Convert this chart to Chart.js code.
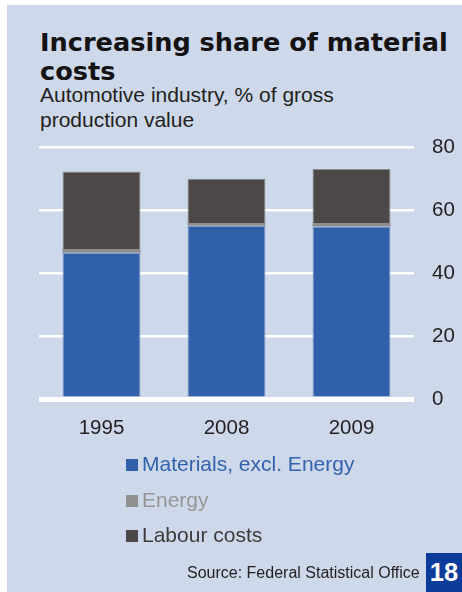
<!DOCTYPE html>
<html>
<head>
<meta charset="utf-8">
<script src="https://cdn.jsdelivr.net/npm/chart.js@4.4.0/dist/chart.umd.min.js"></script>
<style>
  body { margin: 0; width: 462px; height: 592px; overflow: hidden; background: #fff; font-family: "Liberation Sans", Arial, sans-serif; }
  #panel { position: absolute; left: 7px; top: 5px; right: 0; bottom: 0; background: #cdd8ea; }
  #chart { position: absolute; left: 0; top: 0; }
  .title { position: absolute; left: 40px; top: 27.6px; font-family: "DejaVu Sans", sans-serif; font-weight: bold; font-size: 25.6px; line-height: 29px; color: #141212; white-space: nowrap; }
  .subtitle { position: absolute; left: 40px; top: 82px; font-size: 21px; line-height: 25px; color: #231f20; white-space: nowrap; }
  #legend { position: absolute; left: 126px; top: 449px; }
  .item { position: relative; height: 35.7px; font-size: 21px; line-height: 30px; white-space: nowrap; }
  .item span.box { position: absolute; left: 0; top: 10px; width: 12px; height: 12px; }
  .item span.lbl { position: absolute; left: 16px; top: 0; }
  .source { position: absolute; left: 187px; top: 563px; font-size: 16px; line-height: 20px; color: #231f20; white-space: nowrap; }
  .page { position: absolute; left: 426px; top: 553px; width: 36px; height: 39px; background: #0d3b99; color: #fff; font-weight: bold; font-size: 25.6px; line-height: 39px; text-align: center; }
</style>
</head>
<body>
<div id="panel"></div>
<div class="title">Increasing share of material<br>costs</div>
<div class="subtitle">Automotive industry, % of gross<br>production value</div>
<canvas id="chart" width="462" height="592"></canvas>
<div id="legend"></div>
<div class="source">Source: Federal Statistical Office</div>
<div class="page">18</div>
<script>
const years = ["1995", "2008", "2009"];
const materials = [46.4, 55.0, 54.8];
const energy = [1.2, 0.9, 1.1];
const labour = [24.6, 14.0, 17.1];
const yTicks = [0, 20, 40, 60, 80];

const seriesNames = ["Materials, excl. Energy", "Energy", "Labour costs"];
const barColors = ["#3160aa", "#8f8f8f", "#4c4848"];
const legendTextColors = ["#3462ad", "#969696", "#3f3b3b"];

// legend, one item per line
const legend = document.getElementById("legend");
seriesNames.forEach((name, i) => {
  legend.innerHTML += `
    <div class="item">
      <span class="box" style="background:${barColors[i]}"></span>
      <span class="lbl" style="color:${legendTextColors[i]}">${name}</span>
    </div>`;
});

const ctx = document.getElementById("chart").getContext("2d");

new Chart(ctx, {
  type: "bar",
  data: {
    labels: years,
    datasets: [
      { label: seriesNames[0], data: materials, backgroundColor: barColors[0], borderColor: "#8fa4cc", borderWidth: 1 },
      { label: seriesNames[1], data: energy, backgroundColor: barColors[1], borderWidth: 0 },
      { label: seriesNames[2], data: labour, backgroundColor: barColors[2], borderColor: "#8c8c8c", borderWidth: 1 }
    ]
  },
  options: {
    responsive: false,
    animation: false,
    layout: { padding: { top: 147, left: 39, right: 0, bottom: 0 } },
    datasets: { bar: { barPercentage: 0.624, categoryPercentage: 1 } },
    plugins: { legend: { display: false }, tooltip: { enabled: false } },
    scales: {
      x: {
        stacked: true,
        grid: { display: false },
        border: { display: false },
        ticks: { color: "#231f20", font: { family: "Liberation Sans", size: 20.5 }, padding: 9 },
        afterFit: scale => { scale.height = 193; }
      },
      y: {
        stacked: true,
        position: "right",
        min: 0,
        max: 80,
        afterBuildTicks: scale => { scale.ticks = yTicks.map(v => ({ value: v })); },
        grid: {
          color: "#ffffff",
          lineWidth: c => (c.tick && c.tick.value === 0 ? 5 : 2.5),
          drawTicks: false
        },
        border: { display: false },
        ticks: { color: "#231f20", font: { family: "Liberation Sans", size: 20.5 }, padding: 18 },
        afterFit: scale => { scale.width = 48; }
      }
    }
  }
});
</script>
</body>
</html>
